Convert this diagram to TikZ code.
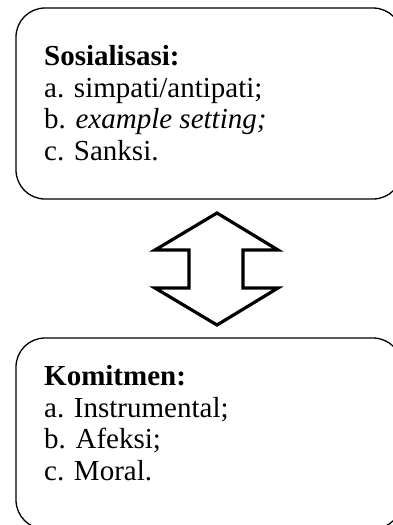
\documentclass[tikz,border=0pt]{standalone}
\usepackage{fontspec}
\setmainfont{Liberation Serif}
\begin{document}
\begin{tikzpicture}[x=1pt,y=-1pt,
  boxshape/.style={draw=black,line width=1.3pt,rounded corners=29pt},
  txt/.style={anchor=base west,inner sep=0pt,font=\fontsize{29}{32}\selectfont},
  dblarrow/.style={draw=black,line width=3.2pt,line join=miter,fill=white}]
\useasboundingbox (0,0) rectangle (393,525);
\clip (0,0) rectangle (393,525);
\draw[boxshape] (16,8) rectangle (402,199);
\draw[boxshape] (16,338) rectangle (402,529);
\node[txt] (s0) at (44,65) {\textbf{Sosialisasi:}};
\node[txt] (s1) at (44,97) {a. simpati/antipati;};
\node[txt] (s2) at (44,128) {b. \textit{example setting;}};
\node[txt] (s3) at (44,160) {c. Sanksi.};
\node[txt] (k0) at (44,385) {\textbf{Komitmen:}};
\node[txt] (k1) at (44,417) {a. Instrumental;};
\node[txt] (k2) at (44,448) {b. Afeksi;};
\node[txt] (k3) at (44,480) {c. Moral.};
\draw[dblarrow] (217,213) -- (155,250) -- (189,250) -- (189,288) -- (155,288) -- (217,325) -- (278,288) -- (243,288) -- (243,250) -- (278,250) -- cycle;
\end{tikzpicture}
\end{document}
